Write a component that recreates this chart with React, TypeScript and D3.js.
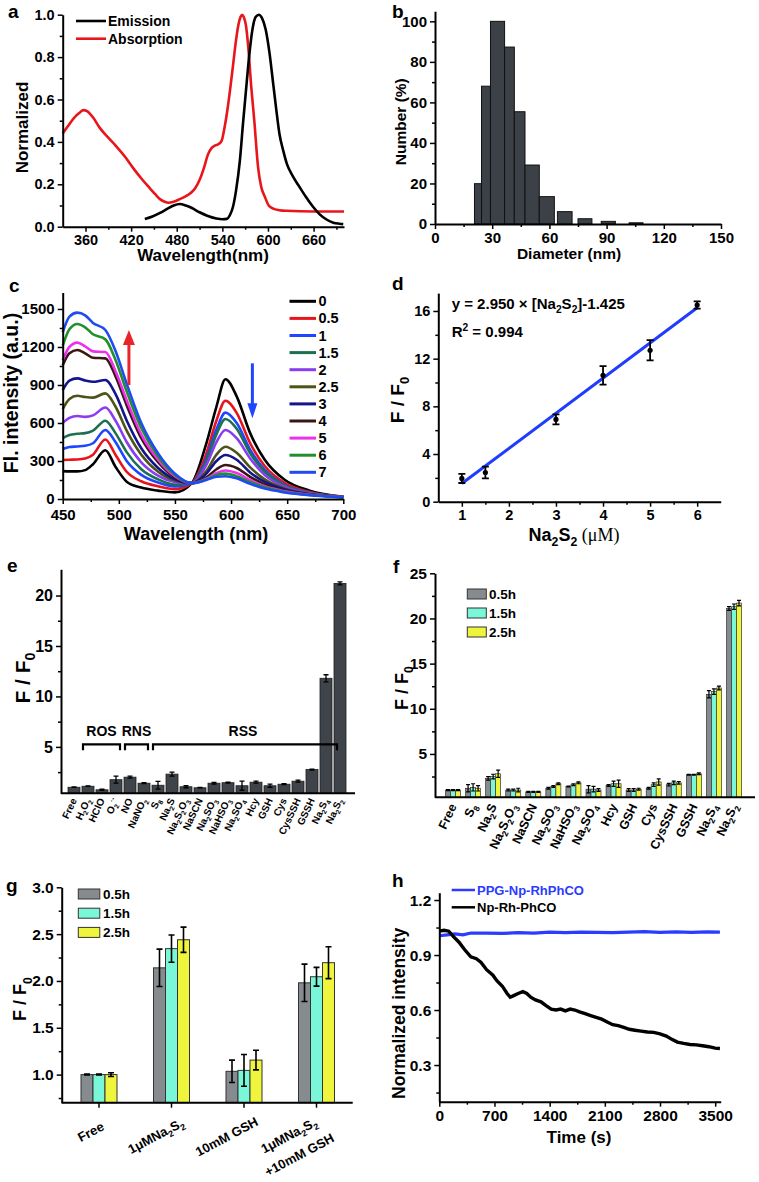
import React, { useEffect, useRef } from 'react';
import * as d3 from 'd3';

const FONT = "'Liberation Sans', Arial, Helvetica, sans-serif";

// ---------- panel a ----------
const absWl = [330,336,342,348,353,357,362,370,379,390,401,412,423,434,445,452,458,464,469,476,484,491,497,504,510,516,521,526,530,535,539,543,547,551,554,558,561,564,566,568,571,574,578,582,587,591,596,601,607,615,624,660,700];
const absVal = [0.44,0.47,0.50,0.525,0.54,0.55,0.545,0.515,0.465,0.42,0.377,0.33,0.275,0.225,0.18,0.152,0.13,0.118,0.113,0.118,0.13,0.142,0.155,0.18,0.22,0.28,0.34,0.372,0.382,0.39,0.405,0.47,0.56,0.67,0.76,0.88,0.95,0.99,1.0,0.99,0.95,0.85,0.66,0.5,0.28,0.19,0.14,0.1,0.085,0.078,0.075,0.072,0.072];
const emWl = [438,448,458,468,476,484,492,500,510,520,532,540,546,550,554,558,563,567,572,576,580,584,588,592,597,602,607,611,615,620,625,633,641,650,659,668,677,686,694,699];
const emVal = [0.036,0.048,0.065,0.085,0.1,0.107,0.1,0.088,0.068,0.052,0.039,0.035,0.037,0.055,0.094,0.17,0.31,0.48,0.68,0.83,0.94,0.99,1.0,0.985,0.93,0.82,0.67,0.55,0.44,0.36,0.295,0.236,0.19,0.14,0.095,0.058,0.034,0.019,0.014,0.012];
const aLegend = ['Emission', 'Absorption'];

// ---------- panel b ----------
const bLeft = [20.7,24.4,29.1,36.5,41.6,47.2,54.7,64.2,75,87.2,101.8];
const bRight = [24.4,29.1,36.5,41.6,47.2,54.7,62.6,71.9,82.3,94.6,109.1];
const bValue = [19.9,68,100,87.3,55.4,29.1,13.5,6.1,2.6,1.3,0.6];

// ---------- panel c ----------
const cWl = [450,456,463,470,477,488,497,507,520,535,550,565,578,587,595,605,617,630,648,670,700];
const c0 = [220,218,218,228,275,385,255,137,90,66,52,125,440,730,945,810,520,310,150,66,18];
const c05 = [308,310,312,320,350,470,350,215,140,100,78,125,360,620,775,680,440,260,125,55,18];
const c1 = [395,410,415,420,440,545,450,300,190,130,100,125,320,550,682,600,390,230,110,50,18];
const c15 = [480,505,515,520,540,618,520,370,235,155,115,125,300,510,632,555,360,215,105,48,18];
const c2 = [600,640,655,648,660,722,620,450,290,185,135,125,270,450,545,480,320,190,95,45,18];
const c25 = [710,790,815,805,800,834,730,540,350,215,145,125,220,350,413,365,250,155,82,40,17];
const c3 = [860,935,952,935,925,939,830,620,400,245,155,125,200,300,347,310,210,135,75,38,16];
const c4 = [1055,1150,1176,1150,1115,1110,970,740,480,290,170,125,170,235,268,245,175,115,65,35,16];
const c5 = [1095,1200,1234,1205,1165,1160,1010,780,510,310,180,125,160,205,225,205,150,100,60,33,15];
const c6 = [1210,1340,1381,1355,1300,1260,1100,850,560,335,190,125,155,190,200,180,135,92,56,31,14];
const c7 = [1316,1440,1471,1450,1390,1334,1170,910,600,360,200,125,150,175,180,163,120,82,52,30,13];
const cSeries = [c0, c05, c1, c15, c2, c25, c3, c4, c5, c6, c7];
const cLabels = ['0','0.5','1','1.5','2','2.5','3','4','5','6','7'];
const cColors = ['#000000','#e8141c','#1f45ff','#1c7050','#8a3cf0','#4c5418','#14148c','#3a1616','#ee30ee','#22902a','#1f4cf0'];
// arrows: [wavelength, from, to]
const cArrowUp = [509, 900, 1334];
const cArrowDown = [619, 1071, 637];

// ---------- panel d ----------
const dConc = [1, 1.5, 3, 4, 5, 6];
const dRatio = [1.95, 2.45, 6.9, 10.6, 12.7, 16.5];
const dErr = [0.38, 0.5, 0.42, 0.77, 0.85, 0.3];
const dSlope = 2.95;
const dIntercept = -1.425;

// ---------- panel e ----------
const eCats = ['Free','H_2O_2','HClO','O_2^{·-}','NO','NaNO_2','S_8','Na_2S','Na_2S_2O_3','NaSCN','Na_2SO_3','NaHSO_3','Na_2SO_4','Hcy','GSH','Cys','CysSSH','GSSH','Na_2S_4','Na_2S_2'];
const eVals = [1.0,1.1,0.75,1.75,2.0,1.4,1.2,2.3,1.05,0.95,1.4,1.45,1.15,1.5,1.15,1.3,1.6,2.75,11.8,21.2];
const eErrs = [0.03,0.03,0.05,0.35,0.1,0.05,0.38,0.2,0.1,0.03,0.08,0.05,0.45,0.1,0.15,0.05,0.1,0.05,0.35,0.15];
const eGroups = ['ROS', 'RNS', 'RSS'];
const eGroupRange = [[1, 3], [4, 5], [6, 19]];
const eGroupLevel = 5.25;

// ---------- panel f ----------
const fCats = ['Free','S_8','Na_2S','Na_2S_2O_3','NaSCN','Na_2SO_3','NaHSO_3','Na_2SO_4','Hcy','GSH','Cys','CysSSH','GSSH','Na_2S_4','Na_2S_2'];
const f05 = [1.0,1.2,2.3,1.0,0.8,1.2,1.4,1.1,1.5,1.0,1.2,1.6,2.7,11.6,21.1];
const f15 = [1.0,1.3,2.5,1.0,0.8,1.4,1.6,1.1,1.7,1.0,1.6,1.8,2.7,11.9,21.3];
const f25 = [1.0,1.2,2.8,1.0,0.8,1.7,1.8,1.0,1.7,1.1,1.9,1.8,2.8,12.3,21.7];
const f05e = [0.05,0.4,0.2,0.1,0.05,0.1,0.05,0.4,0.1,0.15,0.1,0.15,0.05,0.4,0.2];
const f15e = [0.05,0.4,0.25,0.1,0.05,0.1,0.1,0.3,0.3,0.15,0.2,0.2,0.05,0.3,0.3];
const f25e = [0.05,0.3,0.4,0.2,0.05,0.1,0.1,0.15,0.4,0.1,0.35,0.15,0.1,0.2,0.3];

const timeLabels = ['0.5h', '1.5h', '2.5h'];
const timeColors = ['#868b8f', '#7af7d8', '#eef53c'];

// ---------- panel g ----------
const gCats = ['Free', '1μMNa_2S_2', '10mM GSH', '1μMNa_2S_2|+10mM GSH'];
const g05 = [1.0, 2.14, 1.035, 1.98];
const g15 = [1.0, 2.345, 1.045, 2.045];
const g25 = [1.0, 2.44, 1.155, 2.195];
const g05e = [0.005, 0.2, 0.12, 0.2];
const g15e = [0.005, 0.145, 0.17, 0.1];
const g25e = [0.02, 0.135, 0.105, 0.17];

// ---------- panel h ----------
const hTimeBlack = [0,60,120,180,250,320,400,470,530,600,680,730,800,860,900,950,1000,1060,1110,1160,1220,1290,1350,1420,1480,1540,1600,1660,1720,1780,1850,1920,1990,2060,2130,2200,2270,2340,2410,2480,2560,2640,2720,2800,2880,2950,3020,3100,3180,3260,3340,3420,3500,3560];
const hBlack = [1.03,1.035,1.03,1.0,0.97,0.93,0.89,0.88,0.86,0.82,0.79,0.76,0.73,0.69,0.67,0.68,0.69,0.70,0.69,0.67,0.655,0.645,0.625,0.605,0.60,0.605,0.595,0.605,0.60,0.59,0.58,0.57,0.56,0.55,0.535,0.52,0.515,0.505,0.495,0.49,0.485,0.48,0.478,0.47,0.458,0.44,0.425,0.418,0.412,0.41,0.405,0.40,0.392,0.39];
const hTimeBlue = [0,100,200,300,400,600,800,1000,1200,1400,1600,1800,2000,2200,2400,2600,2800,3000,3200,3400,3560];
const hBlue = [1.005,1.01,1.015,1.01,1.02,1.02,1.018,1.022,1.02,1.025,1.022,1.025,1.024,1.022,1.025,1.028,1.024,1.026,1.024,1.026,1.025];
const hLegend = ['PPG-Np-RhPhCO', 'Np-Rh-PhCO'];
const hColors = ['#2b3bff', '#000000'];

// ---------- helpers ----------
function rich(t: any, str: string, fs: number) {
  const parts = str.match(/_\{[^}]*\}|_.|\^\{[^}]*\}|\^.|[^_^]+/g) || [];
  let shift = 0;
  parts.forEach((p: string) => {
    let kind = 'n';
    let s = p;
    if (p[0] === '_') { kind = 's'; s = p[1] === '{' ? p.slice(2, -1) : p.slice(1); }
    else if (p[0] === '^') { kind = 'p'; s = p[1] === '{' ? p.slice(2, -1) : p.slice(1); }
    const target = kind === 's' ? fs * 0.28 : kind === 'p' ? -fs * 0.42 : 0;
    t.append('tspan').text(s).attr('dy', target - shift).attr('font-size', kind === 'n' ? fs : fs * 0.68);
    shift = target;
  });
  return shift;
}

function txt(g: any, x: number, y: number, s: string, fs: number, o: any = {}) {
  const t = g.append('text')
    .attr('x', x).attr('y', y)
    .attr('font-family', o.family || FONT)
    .attr('font-weight', o.weight || 'bold')
    .attr('font-size', fs)
    .attr('fill', o.fill || '#000')
    .attr('text-anchor', o.anchor || 'start');
  if (o.rotate != null) t.attr('transform', `rotate(${o.rotate},${x},${y})`);
  const sh = rich(t, s, fs);
  return { t, sh };
}

function styleAxis(g: any, fs: number) {
  g.attr('font-family', null).attr('font-size', null);
  g.select('.domain').attr('stroke', '#000').attr('stroke-width', 2);
  g.selectAll('.tick line').attr('stroke', '#000').attr('stroke-width', 1.5);
  g.selectAll('.tick text').attr('font-family', FONT).attr('font-weight', 'bold').attr('font-size', fs).attr('fill', '#000');
}

function leftAxis(svg: any, y: any, x: number, major: number[], minor: number[], fmt: any, fs: number) {
  const m = svg.append('g').attr('transform', `translate(${x},0)`);
  m.call(d3.axisLeft(y).tickValues(minor).tickSizeInner(3).tickSizeOuter(0).tickFormat(() => ''));
  m.select('.domain').remove();
  m.selectAll('.tick line').attr('stroke', '#000').attr('stroke-width', 1.5);
  const g = svg.append('g').attr('transform', `translate(${x},0)`);
  g.call(d3.axisLeft(y).tickValues(major).tickSizeInner(5).tickSizeOuter(0).tickPadding(3).tickFormat(fmt));
  styleAxis(g, fs);
}

function bottomAxis(svg: any, xs: any, y: number, major: number[], minor: number[], fmt: any, fs: number, pad = 3) {
  const m = svg.append('g').attr('transform', `translate(0,${y})`);
  m.call(d3.axisBottom(xs).tickValues(minor).tickSizeInner(3).tickSizeOuter(0).tickFormat(() => ''));
  m.select('.domain').remove();
  m.selectAll('.tick line').attr('stroke', '#000').attr('stroke-width', 1.5);
  const g = svg.append('g').attr('transform', `translate(0,${y})`);
  g.call(d3.axisBottom(xs).tickValues(major).tickSizeInner(5).tickSizeOuter(0).tickPadding(pad).tickFormat(fmt));
  styleAxis(g, fs);
}

function hline(svg: any, x1: number, x2: number, y: number) {
  svg.append('line').attr('x1', x1).attr('x2', x2).attr('y1', y).attr('y2', y).attr('stroke', '#000').attr('stroke-width', 2);
}

function yTitle(svg: any, cx: number, cy: number, s: string, fs: number) {
  txt(svg, cx + fs * 0.36, cy, s, fs, { anchor: 'middle', rotate: -90 });
}

function errBar(svg: any, x: number, yLo: number, yHi: number, cap: number, w = 1.5) {
  svg.append('path')
    .attr('d', `M${x},${yLo}V${yHi}M${x - cap / 2},${yLo}H${x + cap / 2}M${x - cap / 2},${yHi}H${x + cap / 2}`)
    .attr('stroke', '#000').attr('stroke-width', w).attr('fill', 'none');
}

function letter(svg: any, x: number, y: number, s: string) {
  txt(svg, x, y, s, 19, {});
}

function draw(svg: any) {
  const f1 = d3.format('.1f');
  const fd = d3.format('d');

  // ================= a =================
  {
    const x = d3.scaleLinear().domain([330, 700]).range([62.7, 344]);
    const y = d3.scaleLinear().domain([0, 1]).range([226.7, 14.7]);
    const line = d3.line<number>().curve(d3.curveMonotoneX);
    svg.append('path').attr('d', line(absWl.map((w, i) => [x(w), y(absVal[i])]) as any)).attr('fill', 'none').attr('stroke', '#e8161b').attr('stroke-width', 2.6);
    svg.append('path').attr('d', line(emWl.map((w, i) => [x(w), y(emVal[i])]) as any)).attr('fill', 'none').attr('stroke', '#000').attr('stroke-width', 2.6);
    leftAxis(svg, y, 62.7, [0, 0.2, 0.4, 0.6, 0.8, 1.0], [0.1, 0.3, 0.5, 0.7, 0.9], f1, 14.5);
    bottomAxis(svg, x, 226.7, [360, 420, 480, 540, 600, 660], [390, 450, 510, 570, 630, 690], fd, 14.5);
    const lc = ['#000', '#e8161b'];
    aLegend.forEach((s, i) => {
      const ly = 21 + i * 17.7;
      svg.append('line').attr('x1', 76).attr('x2', 106).attr('y1', ly).attr('y2', ly).attr('stroke', lc[i]).attr('stroke-width', 2.6);
      txt(svg, 108, ly + 5, s, 14, {});
    });
    txt(svg, 203, 261, 'Wavelength(nm)', 17, { anchor: 'middle' });
    yTitle(svg, 22, 127.5, 'Normalized', 17);
    letter(svg, 8, 18, 'a');
  }

  // ================= b =================
  {
    const x = d3.scaleLinear().domain([0, 150]).range([435, 721]);
    const y = d3.scaleLinear().domain([0, 105]).range([224, 11.2]);
    bValue.forEach((v, i) => {
      svg.append('rect').attr('x', x(bLeft[i])).attr('width', x(bRight[i]) - x(bLeft[i])).attr('y', y(v)).attr('height', y(0) - y(v))
        .attr('fill', '#3b4146').attr('stroke', '#111').attr('stroke-width', 1);
    });
    leftAxis(svg, y, 435, [0, 20, 40, 60, 80, 100], [10, 30, 50, 70, 90], fd, 15);
    bottomAxis(svg, x, 224, [0, 30, 60, 90, 120, 150], [15, 45, 75, 105, 135], fd, 15);
    txt(svg, 569, 259, 'Diameter (nm)', 15.5, { anchor: 'middle' });
    yTitle(svg, 400.5, 121.7, 'Number (%)', 15.5);
    letter(svg, 392, 18, 'b');
  }

  // ================= c =================
  {
    const x = d3.scaleLinear().domain([450, 700]).range([62.7, 343.3]);
    const y = d3.scaleLinear().domain([0, 1630]).range([499, 292.5]);
    const line = d3.line<number>().curve(d3.curveMonotoneX);
    cSeries.forEach((s, k) => {
      svg.append('path').attr('d', line(cWl.map((w, i) => [x(w), y(s[i])]) as any)).attr('fill', 'none').attr('stroke', cColors[k]).attr('stroke-width', 2.6);
    });
    leftAxis(svg, y, 62.7, [0, 300, 600, 900, 1200, 1500], [150, 450, 750, 1050, 1350], fd, 15);
    bottomAxis(svg, x, 499, [450, 500, 550, 600, 650, 700], [475, 525, 575, 625, 675], fd, 15, 5);
    cLabels.forEach((s, i) => {
      const ly = 301.3 + i * 17.1;
      svg.append('line').attr('x1', 289.5).attr('x2', 316).attr('y1', ly).attr('y2', ly).attr('stroke', cColors[i]).attr('stroke-width', 3);
      txt(svg, 318.5, ly + 5, s, 14.5, {});
    });
    // arrows
    const up = cArrowUp, dn = cArrowDown;
    const ux = x(up[0]);
    svg.append('line').attr('x1', ux).attr('x2', ux).attr('y1', y(up[1])).attr('y2', y(up[2]) + 12).attr('stroke', '#e8262a').attr('stroke-width', 3);
    svg.append('path').attr('d', `M${ux},${y(up[2])}L${ux - 6},${y(up[2]) + 15}L${ux + 6},${y(up[2]) + 15}Z`).attr('fill', '#e8262a');
    const dx = x(dn[0]);
    svg.append('line').attr('x1', dx).attr('x2', dx).attr('y1', y(dn[1])).attr('y2', y(dn[2]) - 12).attr('stroke', '#1f45ff').attr('stroke-width', 3);
    svg.append('path').attr('d', `M${dx},${y(dn[2])}L${dx - 5},${y(dn[2]) - 15}L${dx + 5},${y(dn[2]) - 15}Z`).attr('fill', '#1f45ff');
    txt(svg, 196, 540, 'Wavelength (nm)', 18, { anchor: 'middle' });
    yTitle(svg, 10.5, 393, 'Fl. intensity (a.u.)', 19.5);
    letter(svg, 9, 292, 'c');
  }

  // ================= d =================
  {
    const x = d3.scaleLinear().domain([0.5, 6.5]).range([438.3, 720.7]);
    const y = d3.scaleLinear().domain([0, 17.5]).range([501.7, 293.1]);
    svg.append('line').attr('x1', x(1)).attr('x2', x(6)).attr('y1', y(dSlope * 1 + dIntercept)).attr('y2', y(dSlope * 6 + dIntercept))
      .attr('stroke', '#1f3cff').attr('stroke-width', 3);
    dConc.forEach((c, i) => {
      errBar(svg, x(c), y(dRatio[i] - dErr[i]), y(dRatio[i] + dErr[i]), 7, 1.8);
      svg.append('circle').attr('cx', x(c)).attr('cy', y(dRatio[i])).attr('r', 2.6).attr('fill', '#000');
    });
    leftAxis(svg, y, 438.3, [0, 4, 8, 12, 16], [2, 6, 10, 14], fd, 14.5);
    bottomAxis(svg, x, 501.7, [1, 2, 3, 4, 5, 6], [1.5, 2.5, 3.5, 4.5, 5.5], fd, 14.5);
    txt(svg, 451.7, 309, 'y = 2.950 × [Na_2S_2]-1.425', 15, {});
    txt(svg, 451.7, 337, 'R^2 = 0.994', 15, {});
    const { t, sh } = txt(svg, 574, 541, 'Na_2S_2', 18, { anchor: 'middle' });
    t.append('tspan').attr('dy', -sh).attr('font-family', "'Liberation Serif', 'DejaVu Serif', serif").attr('font-weight', 'normal').attr('font-size', 18).text(' (μM)');
    yTitle(svg, 396.7, 400, 'F / F_0', 19);
    letter(svg, 392, 290, 'd');
  }

  // ================= e =================
  {
    const x = d3.scalePoint().domain(eCats).range([74, 340]);
    const y = d3.scaleLinear().domain([0.4, 22.6]).range([793.3, 569.3]);
    const bw = 12;
    eCats.forEach((c, i) => {
      const cx = x(c) as number;
      svg.append('rect').attr('x', cx - bw / 2).attr('width', bw).attr('y', y(eVals[i])).attr('height', y(0.4) - y(eVals[i]))
        .attr('fill', '#3e4449').attr('stroke', '#1e1e1e').attr('stroke-width', 0.8);
      if (eErrs[i] > 0.04) errBar(svg, cx, y(eVals[i] - eErrs[i]), y(eVals[i] + eErrs[i]), 5, 1.3);
      else errBar(svg, cx, y(eVals[i]), y(eVals[i] + eErrs[i]), 5, 1.3);
      const g = svg.append('g').attr('transform', `translate(${cx + 3},${793.3 + 7}) rotate(-65)`);
      const t = g.append('text').attr('text-anchor', 'end').attr('font-family', FONT).attr('font-weight', 'bold').attr('font-size', 10).attr('fill', '#000');
      rich(t, c, 10);
    });
    leftAxis(svg, y, 61, [5, 10, 15, 20], [2.5, 7.5, 12.5, 17.5], fd, 16);
    hline(svg, 61, 355, 793.3);
    // brackets
    eGroups.forEach((s, k) => {
      const [a, b] = eGroupRange[k];
      const x1 = (x(eCats[a]) as number) - 5;
      const x2 = k === 2 ? (x(eCats[b]) as number) - 3 : (x(eCats[b]) as number) + 4;
      const by = y(eGroupLevel);
      svg.append('path').attr('d', `M${x1},${by + 6}V${by}H${x2}V${by + 6}`).attr('stroke', '#000').attr('stroke-width', 2.2).attr('fill', 'none');
      txt(svg, (x1 + x2) / 2 + (k === 2 ? -2 : 0), by - 8, s, 14, { anchor: 'middle' });
    });
    yTitle(svg, 22, 678, 'F / F_0', 21);
    letter(svg, 7, 572, 'e');
  }

  // ================= f =================
  {
    const x = d3.scalePoint().domain(fCats).range([453, 734]);
    const y = d3.scaleLinear().domain([0.2, 25]).range([797.3, 573.3]);
    const bw = 5;
    const sets = [f05, f15, f25];
    const errs = [f05e, f15e, f25e];
    fCats.forEach((c, i) => {
      const cx = x(c) as number;
      sets.forEach((s, k) => {
        const bx = cx + (k - 1) * bw;
        svg.append('rect').attr('x', bx - bw / 2).attr('width', bw).attr('y', y(s[i])).attr('height', y(0.2) - y(s[i]))
          .attr('fill', timeColors[k]).attr('stroke', '#333').attr('stroke-width', 0.7);
        errBar(svg, bx, y(s[i] - errs[k][i]), y(s[i] + errs[k][i]), 4, 1.2);
      });
      const g = svg.append('g').attr('transform', `translate(${cx + 4},${797.3 + 9}) rotate(-65)`);
      const t = g.append('text').attr('text-anchor', 'end').attr('font-family', FONT).attr('font-weight', 'bold').attr('font-size', 12.5).attr('fill', '#000');
      rich(t, c, 12.5);
    });
    leftAxis(svg, y, 435, [5, 10, 15, 20, 25], [2.5, 7.5, 12.5, 17.5, 22.5], fd, 15.5);
    hline(svg, 435, 755, 797.3);
    timeLabels.forEach((s, k) => {
      const ly = 594 + k * 19;
      svg.append('rect').attr('x', 467.3).attr('y', ly - 5).attr('width', 19).attr('height', 10).attr('fill', timeColors[k]).attr('stroke', '#333').attr('stroke-width', 1);
      txt(svg, 489, ly + 5, s, 13.5, {});
    });
    yTitle(svg, 401.5, 688, 'F / F_0', 18);
    letter(svg, 393, 573, 'f');
  }

  // ================= g =================
  {
    const x = d3.scalePoint().domain(gCats).range([99, 316.5]);
    const y = d3.scaleLinear().domain([0.7, 3.0]).range([1102.7, 887.3]);
    const bw = 12;
    const sets = [g05, g15, g25];
    const errs = [g05e, g15e, g25e];
    const axisY = 1102.7;
    gCats.forEach((c, i) => {
      const cx = x(c) as number;
      sets.forEach((s, k) => {
        const bx = cx + (k - 1) * bw;
        svg.append('rect').attr('x', bx - bw / 2).attr('width', bw).attr('y', y(s[i])).attr('height', y(0.7) - y(s[i]))
          .attr('fill', timeColors[k]).attr('stroke', '#333').attr('stroke-width', 1);
        errBar(svg, bx, y(s[i] - errs[k][i]), y(s[i] + errs[k][i]), 6, 1.6);
      });
      svg.append('line').attr('x1', cx).attr('x2', cx).attr('y1', axisY).attr('y2', axisY + 5).attr('stroke', '#000').attr('stroke-width', 1.5);
      const lines = c.split('|');
      const g = svg.append('g').attr('transform', `translate(${cx},${axisY + 30}) rotate(-28)`);
      const mk = () => g.append('text').attr('font-family', FONT).attr('font-weight', 'bold').attr('font-size', 13).attr('fill', '#000');
      if (lines.length === 1) {
        const t = mk().attr('text-anchor', 'start');
        rich(t, lines[0], 13);
        const L = (t.node() as any).getComputedTextLength();
        t.attr('x', -0.75 * L);
      } else {
        const t1 = mk().attr('text-anchor', 'end').attr('x', 5).attr('y', -6);
        rich(t1, lines[0], 13);
        const L1 = (t1.node() as any).getComputedTextLength();
        const t2 = mk().attr('text-anchor', 'middle').attr('x', 5 - L1 / 2).attr('y', 16);
        rich(t2, lines[1], 13);
      }
    });
    leftAxis(svg, y, 61.7, [1.0, 1.5, 2.0, 2.5, 3.0], [0.75, 1.25, 1.75, 2.25, 2.75], f1, 15.5);
    hline(svg, 61.7, 352.7, axisY);
    timeLabels.forEach((s, k) => {
      const ly = 894 + k * 19.2;
      svg.append('rect').attr('x', 78.3).attr('y', ly - 5).attr('width', 21.5).attr('height', 10).attr('fill', timeColors[k]).attr('stroke', '#333').attr('stroke-width', 1);
      txt(svg, 103, ly + 5, s, 13.5, {});
    });
    yTitle(svg, 20, 999, 'F / F_0', 18);
    letter(svg, 6, 892, 'g');
  }

  // ================= h =================
  {
    const x = d3.scaleLinear().domain([0, 3570]).range([439.3, 720.7]);
    const y = d3.scaleLinear().domain([0.1, 1.24]).range([1101.7, 892.7]);
    const line = d3.line<number>();
    svg.append('path').attr('d', line(hTimeBlue.map((t, i) => [x(t), y(hBlue[i])]) as any)).attr('fill', 'none').attr('stroke', hColors[0]).attr('stroke-width', 3.2);
    svg.append('path').attr('d', line(hTimeBlack.map((t, i) => [x(t), y(hBlack[i])]) as any)).attr('fill', 'none').attr('stroke', hColors[1]).attr('stroke-width', 3.4);
    leftAxis(svg, y, 439.3, [0.3, 0.6, 0.9, 1.2], [0.15, 0.45, 0.75, 1.05], f1, 15.5);
    bottomAxis(svg, x, 1101.7, [0, 700, 1400, 2100, 2800, 3500], [350, 1050, 1750, 2450, 3150], fd, 15.5);
    hLegend.forEach((s, k) => {
      const ly = 890 + k * 17.3;
      svg.append('line').attr('x1', 451.7).attr('x2', 475).attr('y1', ly).attr('y2', ly).attr('stroke', hColors[k]).attr('stroke-width', 2.5);
      txt(svg, 477, ly + 5, s, 13, { fill: hColors[k] });
    });
    txt(svg, 579, 1142.5, 'Time (s)', 17, { anchor: 'middle' });
    yTitle(svg, 398.3, 1013.3, 'Normalized intensity', 17.5);
    letter(svg, 392, 887, 'h');
  }
}

export default function App() {
  const ref = useRef<SVGSVGElement>(null);
  useEffect(() => {
    const svg = d3.select(ref.current);
    svg.selectAll('*').remove();
    draw(svg);
  }, []);
  return (
    <svg ref={ref} width={759} height={1182} style={{ position: 'absolute', left: 0, top: 0, background: '#fff' }} />
  );
}
